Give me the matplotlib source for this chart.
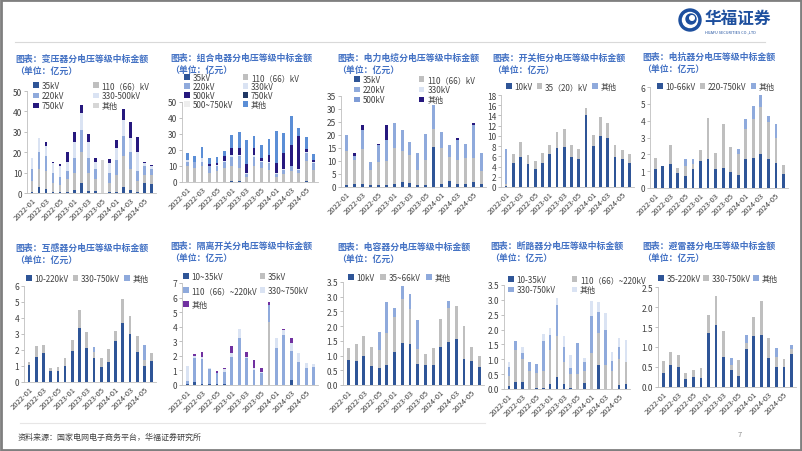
import matplotlib
matplotlib.use('Agg')
import matplotlib.pyplot as plt
from matplotlib.patches import Rectangle, Circle

plt.rcParams['font.family'] = ['Noto Sans CJK SC', 'DejaVu Sans']

# ---------------- data ----------------
months = ['2022-01', '2022-02', '2022-03', '2022-04', '2022-05', '2022-06',
          '2023-01', '2023-02', '2023-03', '2023-04', '2023-05', '2023-06',
          '2024-01', '2024-02', '2024-03', '2024-04', '2024-05', '2024-06']
tick_labels = ['2022-01', '2022-03', '2022-05', '2023-01', '2023-03', '2023-05',
               '2024-01', '2024-03', '2024-05']

# 变压器
tr_35 = [0.5, 3, 2, 0.5, 0.5, 0.5, 1.5, 5, 1, 1, 0, 0.5, 0.5, 3, 1.5, 0.5, 5, 4.5]
tr_110 = [5.5, 9, 9, 4.5, 3.5, 6.5, 8.5, 15, 9, 6, 0, 4.5, 8.5, 15, 10.5, 5.5, 4, 4.5]
tr_220 = [6, 8, 7, 5, 4, 4, 7, 11, 7, 5, 0, 5, 7, 10, 8, 5, 4, 3]
tr_330 = [5, 7, 5, 4.5, 5, 4, 8, 8, 8, 3, 0, 4.5, 6, 8, 7, 9, 1.5, 1]
tr_750 = [0, 0, 2, 0.5, 1, 5, 5, 4, 4, 2, 0, 2, 4, 5, 8, 7.5, 0.5, 0.5]
tr_other = [0, 0, 0, 0, 0, 0, 0, 0, 0, 0, 16, 0, 0, 0, 0, 0, 0, 0]

# 组合电器
gis_35 = [0.3, 0.2, 0.3, 0.2, 0.2, 0.3, 0.4, 0.5, 0.2, 0.3, 0.3, 0.3, 0.2, 0.3, 0.3, 0.2, 0.4, 0.3]
gis_110 = [9.5, 8.5, 9.5, 5.5, 6.5, 8.5, 9.5, 8.5, 2.8, 9.5, 8.5, 7.5, 2.8, 4.5, 6.5, 5.5, 12.5, 7.5]
gis_220 = [3, 3.5, 3, 4, 3.5, 4, 6, 7, 2, 6, 4, 4, 2, 3, 3, 2, 5, 4]
gis_330 = [1, 0.5, 2, 0.5, 0.5, 0.5, 1, 1, 0.5, 1, 0.5, 0.5, 0.5, 0.5, 0.5, 0.5, 1, 0.5]
gis_500 = [0, 0, 0, 1.3, 1.3, 2.7, 4.6, 4.5, 5.5, 4.2, 1.7, 4.7, 6.5, 9.7, 12.7, 20.8, 2, 1.7]
gis_750 = [0, 0, 0, 0, 0, 0, 0, 0, 0, 0, 0, 0, 0, 0, 0, 0, 0, 0]
gis_500_750 = [0, 0, 0, 0, 0, 0, 0, 0, 0, 0, 0, 0, 0, 0, 0, 0, 0, 0]
gis_other = [4.2, 3.8, 7.2, 3.5, 3.5, 3.5, 8, 10, 15.5, 8, 8, 10, 20, 12.5, 18.5, 4.5, 7, 3.5]

# 电力电缆
cb_35 = [0.8, 1.0, 1.2, 0.8, 0.8, 0.8, 1.2, 2.0, 1.5, 0.8, 0.8, 15.5, 1.0, 2.3, 1.3, 1.0, 1.8, 1.0]
cb_110 = [13.2, 9.5, 13.3, 5.7, 8.7, 9.2, 13.8, 12, 11, 5.7, 9.7, 7, 14, 9.2, 9.2, 10, 9.2, 5]
cb_220 = [6, 1.5, 7.5, 3, 6.8, 8, 9.5, 8, 5, 6.5, 10, 9, 6, 4.5, 7.5, 5.5, 13, 7]
cb_330 = [0, 0, 0, 0, 0, 0, 0, 0, 0, 0, 0, 0, 0, 0, 0, 0, 0, 0]
cb_500 = [0, 0, 0, 0, 0, 0, 0, 0, 0, 0, 0, 0, 0, 0, 0, 0, 0, 0]
cb_other = [0, 1.0, 1.7, 0, 0.4, 6, 0, 0, 0, 0, 0, 0, 0, 0, 0.7, 0, 0.7, 0]

# 开关柜
sw_10 = [0.2, 4.6, 5.9, 4.5, 3.5, 4.6, 6.5, 7.6, 7.9, 5.9, 5.5, 14.1, 8.0, 9.9, 9.6, 5.9, 5.5, 4.6]
sw_35 = [0.3, 1.9, 2.9, 1.7, 1.5, 2.1, 1.8, 3.2, 3.4, 2.4, 1.9, 1.4, 2.1, 3.7, 3.0, 2.3, 1.7, 1.8]
sw_other = [7.0, 0, 0, 0, 0, 0, 0, 0, 0, 0, 0, 0, 0, 0, 0, 0, 0, 0]

# 电抗器
re_10 = [1.1, 1.3, 1.4, 0.9, 0.7, 1.1, 1.6, 1.75, 1.15, 1.2, 0.95, 0.75, 1.75, 1.8, 2.0, 1.75, 1.5, 0.85]
re_220 = [0.7, 0, 1.15, 0.3, 0.6, 0.3, 0.65, 2.4, 0.9, 2.6, 1.5, 1.25, 1.75, 2.3, 2.8, 2.15, 1.5, 0.5]
re_other = [0, 0, 0, 0, 0.4, 0.35, 0, 0, 0, 0, 0, 0.3, 0.6, 0.8, 0.7, 0.4, 0.8, 0]

# 互感器
ct_10 = [1.05, 1.55, 1.8, 0.7, 0.7, 1.0, 1.95, 3.4, 2.15, 1.5, 0.95, 1.25, 2.55, 3.7, 3.0, 1.9, 1.0, 1.3]
ct_330 = [0.2, 0.7, 0.5, 0.2, 0.25, 0.5, 0.65, 1.1, 0.95, 0.4, 0.55, 0.8, 0.65, 1.5, 1.15, 1.0, 0.4, 0.5]
ct_other = [0, 0, 0, 0, 0, 0, 0, 0, 0, 0.3, 0, 0, 0, 0, 0, 0, 0.9, 0]

# 隔离开关
ds_10 = [0.1, 0.2, 0.1, 0.1, 0.05, 0.05, 0, 0, 0, 0, 0, 0, 0, 0, 0.35, 0, 0, 0]
ds_35 = [0, 0, 0, 0, 0, 0, 0, 0, 0, 0, 0, 4.3, 0, 0, 0, 0, 0, 0]
ds_110 = [0.2, 1.65, 1.7, 1.0, 0.75, 0.85, 1.9, 3.25, 1.85, 1.05, 0.8, 1.2, 2.55, 3.45, 1.95, 1.6, 1.2, 1.25]
ds_330 = [1.0, 0.15, 0.15, 0.1, 0.05, 0.2, 0.3, 0.6, 0.05, 0.15, 0.1, 0, 0.7, 0.3, 0.6, 0.6, 0.3, 0.2]
ds_other = [0, 0.1, 0.3, 0, 0.1, 0.1, 0.5, 0, 0.35, 0.5, 0.25, 0.2, 0, 0.1, 0.3, 0, 0, 0]

# 电容器
cap_10 = [0.85, 0.82, 1.0, 0.65, 0.58, 0.68, 1.12, 1.43, 1.38, 0.72, 0.68, 0.67, 1.3, 1.45, 1.55, 0.88, 0.82, 0.6]
cap_35 = [0.4, 0.56, 0.65, 0.63, 0.62, 1.1, 1.2, 1.5, 1.2, 0.5, 0.37, 0.6, 0.93, 1.15, 1.13, 1.12, 0.46, 0.37]
cap_other = [0, 0, 0, 0, 0.6, 1.04, 0.28, 0.42, 0.52, 0.98, 0, 0, 0, 0.25, 0, 0, 0, 0]

# 断路器
cbk_10 = [0.1, 0.25, 0.25, 0, 0.05, 0.03, 0.18, 0.42, 0.17, 0.05, 0, 0.2, 0, 0.8, 0, 0, 0.15, 0.18]
cbk_110 = [0.35, 1.05, 0.75, 0.6, 0.5, 0.57, 1.12, 1.38, 0.73, 0.45, 0.5, 0.4, 1.2, 1.1, 0.8, 0.6, 0.85, 0.72]
cbk_330 = [0.3, 0.3, 0.2, 0.3, 0.3, 1.0, 0.52, 1.02, 0.5, 0.2, 1.05, 0.3, 1.25, 0.7, 1.2, 0.35, 0.4, 0]
cbk_other = [0.15, 0, 0.2, 0, 0, 0.25, 0.23, 0.23, 0.4, 0.45, 0, 0.15, 0.5, 0.32, 0.55, 0.3, 0.32, 0.75]

# 避雷器
ar_35 = [0.36, 0.54, 0.5, 0.19, 0.24, 0.22, 1.36, 1.54, 0.76, 0.42, 0.28, 0.96, 1.28, 1.3, 0.73, 0.49, 0.49, 0.83]
ar_330 = [0.3, 0.33, 0.29, 0.17, 0.19, 0.26, 0.44, 0.73, 0.63, 0.13, 0.39, 0.14, 0.47, 0.86, 0.5, 0.26, 0.22, 0.12]
ar_other = [0, 0, 0, 0, 0, 0, 0, 0, 0, 0.17, 0, 0.2, 0, 0, 0, 0.23, 0, 0.09]

# ---------------- style ----------------
C_DARK = '#2F5597'
C_GRAY = '#BFBFBF'
C_LBLUE = '#8FAADC'
C_VLIGHT = '#DAE3F3'
C_INDIGO = '#26187E'
C_PURPLE = '#7030A0'
C_MBLUE = '#5B8ED6'
C_PALE = '#EEEEEE'
C_LGRAY = '#D6D6D6'
C_NAVY = '#203864'
TITLE_C = '#4472C4'
TXT_C = '#404040'

W, H = 802, 452
fig = plt.figure(figsize=(W / 100, H / 100), dpi=100)

# background overlay
bg = fig.add_axes([0, 0, 1, 1], zorder=-1)
bg.set_xlim(0, W)
bg.set_ylim(H, 0)
bg.axis('off')


def fx(x):
    return x / W


def fy(y):
    return 1 - y / H


def panel(box, ymax, ystep, series, order, ncol, leg_xy, colsp, labsp,
          title_xy, title, fmt='{:.0f}', xmin=-0.7):
    x0, x1, ytop, ybot = box
    ax = fig.add_axes([fx(x0), fy(ybot), (x1 - x0) / W, (ybot - ytop) / H])
    xs = list(range(len(months)))
    bottom = [0.0] * len(months)
    conts = []
    for label, vals, color in series:
        c = ax.bar(xs, vals, width=0.38, bottom=bottom, color=color,
                   label=label, linewidth=0)
        conts.append(c)
        bottom = [b + v for b, v in zip(bottom, vals)]
    ax.set_xlim(xmin, len(months) - 0.4)
    ax.set_ylim(0, ymax)
    n = int(round(ymax / ystep))
    yt = [i * ystep for i in range(n + 1)]
    ax.set_yticks(yt)
    ax.set_yticklabels([fmt.format(v) for v in yt])
    ax.set_xticks(list(range(0, len(months), 2)))
    ax.set_xticklabels(tick_labels, rotation=45, ha='right',
                       rotation_mode='anchor')
    ax.tick_params(axis='y', labelsize=6, colors=TXT_C, length=2,
                   width=0.5, pad=1.5, color='#A6A6A6')
    ax.tick_params(axis='x', labelsize=5.5, colors=TXT_C, length=0, pad=2)
    for s in ('top', 'right'):
        ax.spines[s].set_visible(False)
    for s in ('left', 'bottom'):
        ax.spines[s].set_color('#BFBFBF')
        ax.spines[s].set_linewidth(0.6)
    ax.patch.set_alpha(0)
    handles = [conts[i] for i in order]
    labels = [series[i][0] for i in order]
    ax.legend(handles, labels, loc='upper left',
              bbox_to_anchor=(fx(leg_xy[0]), fy(leg_xy[1])),
              bbox_transform=fig.transFigure, ncol=ncol, frameon=False,
              fontsize=5.8, handlelength=0.7, handleheight=0.7,
              handletextpad=0.35, columnspacing=colsp, labelspacing=labsp,
              borderpad=0, borderaxespad=0, labelcolor=TXT_C)
    fig.text(fx(title_xy[0]), fy(title_xy[1]), '图表：' + title,
             color=TITLE_C, fontsize=6.4, fontweight='bold', va='center',
             ha='left')
    fig.text(fx(title_xy[0]), fy(title_xy[1] + 12), '（单位：亿元）',
             color=TITLE_C, fontsize=6.4, fontweight='bold', va='center',
             ha='left')
    return ax


# 1 变压器
panel((27, 156, 92, 194), 50, 10,
      [('35kV', tr_35, C_DARK), ('110（66）kV', tr_110, C_GRAY),
       ('220kV', tr_220, C_LBLUE), ('330-500kV', tr_330, C_VLIGHT),
       ('750kV', tr_750, C_INDIGO), ('其他', tr_other, C_LGRAY)],
      [0, 2, 4, 1, 3, 5], 2, (33, 82), 3.6, 0.15,
      (15, 59), '变压器分电压等级中标金额')

# 2 组合电器
panel((182, 318, 103, 183), 50, 10,
      [('35kV', gis_35, C_DARK), ('110（66）kV', gis_110, C_GRAY),
       ('220kV', gis_220, C_LBLUE), ('330kV', gis_330, C_VLIGHT),
       ('500kV', gis_500, C_INDIGO), ('750kV', gis_750, C_NAVY),
       ('500~750kV', gis_500_750, C_PALE), ('其他', gis_other, C_MBLUE)],
      [0, 2, 4, 6, 1, 3, 5, 7], 2, (184, 74), 1.2, 0.0,
      (170, 58), '组合电器分电压等级中标金额')

# 3 电力电缆
panel((341, 486, 97, 188), 35, 5,
      [('35kV', cb_35, C_DARK), ('110（66）kV', cb_110, C_GRAY),
       ('220kV', cb_220, C_LBLUE), ('330kV', cb_330, C_VLIGHT),
       ('500kV', cb_500, '#7F9CD6'), ('其他', cb_other, C_INDIGO)],
      [0, 2, 4, 1, 3, 5], 2, (354, 76), 4.2, 0.15,
      (337, 58), '电力电缆分电压等级中标金额')

# 4 开关柜
panel((501, 634, 96, 188), 18, 2,
      [('10kV', sw_10, C_DARK), ('35（20）kV', sw_35, C_GRAY),
       ('其他', sw_other, C_LBLUE)],
      [0, 1, 2], 3, (506, 83), 0.5, 0.2,
      (492, 58), '开关柜分电压等级中标金额')

# 5 电抗器
panel((650, 788, 88, 189), 6, 1,
      [('10-66kV', re_10, C_DARK), ('220-750kV', re_220, C_GRAY),
       ('其他', re_other, C_LBLUE)],
      [0, 1, 2], 3, (657, 83), 0.5, 0.2,
      (642, 57), '电抗器分电压等级中标金额')

# 6 互感器
panel((24, 156, 287, 383), 6, 1,
      [('10-220kV', ct_10, C_DARK), ('330-750kV', ct_330, C_GRAY),
       ('其他', ct_other, C_LBLUE)],
      [0, 1, 2], 3, (26, 275), 0.5, 0.2,
      (15, 248), '互感器分电压等级中标金额')

# 7 隔离开关
panel((182, 318, 284, 386), 7, 1,
      [('10~35kV', ds_10, C_DARK), ('35kV', ds_35, C_GRAY),
       ('110（66）~220kV', ds_110, C_LBLUE), ('330~750kV', ds_330, C_VLIGHT),
       ('其他', ds_other, C_PURPLE)],
      [0, 2, 4, 1, 3], 2, (183, 273), 0.3, 0.6,
      (170, 246), '隔离开关分电压等级中标金额')

# 8 电容器
panel((343, 484, 283, 386), 3.5, 0.5,
      [('10kV', cap_10, C_DARK), ('35~66kV', cap_35, C_GRAY),
       ('其他', cap_other, C_LBLUE)],
      [0, 1, 2], 3, (348, 274), 0.7, 0.2,
      (337, 247), '电容器分电压等级中标金额', fmt='{:.1f}')

# 9 断路器
panel((504, 630, 286, 390), 3.5, 0.5,
      [('10-35kV', cbk_10, C_DARK), ('110（66）~220kV', cbk_110, C_GRAY),
       ('330-750kV', cbk_330, C_LBLUE), ('其他', cbk_other, C_VLIGHT)],
      [0, 2, 1, 3], 2, (508, 276), 2.0, 0.15,
      (490, 246), '断路器分电压等级中标金额', fmt='{:.1f}')

# 10 避雷器
panel((658, 796, 288, 388), 2.5, 0.5,
      [('35-220kV', ar_35, C_DARK), ('330-750kV', ar_330, C_GRAY),
       ('其他', ar_other, C_LBLUE)],
      [0, 1, 2], 3, (658, 275), 0.3, 0.2,
      (642, 246), '避雷器分电压等级中标金额', fmt='{:.1f}')

# ---------------- header / footer ----------------
bg.add_patch(Rectangle((1, 1), W - 2, H - 2, fill=False, edgecolor='#7F7F7F',
                       linewidth=2))
bg.plot([15, 765], [43, 43], color='#D9D9D9', linewidth=0.8)
bg.plot([20, 485], [424, 424], color='#E7E6E6', linewidth=0.8)

LOGO_C = '#1D4F9E'
bg.add_patch(Circle((690, 21), 11, color=LOGO_C))
bg.add_patch(Circle((690, 21), 7.5, color='white'))
bg.add_patch(Circle((691, 20), 5, color=LOGO_C))
bg.add_patch(Circle((692, 19), 2.3, color='white'))
bg.text(705, 19, '华福证券', color=LOGO_C, fontsize=12, fontweight='bold',
        va='center', ha='left')
bg.text(705, 32, 'HUAFU SECURITIES CO.,LTD', color=LOGO_C, fontsize=2.8,
        va='center', ha='left')

bg.text(18, 437, '资料来源：国家电网电子商务平台，华福证券研究所', color=TXT_C,
        fontsize=5.8, va='center', ha='left')
bg.text(738, 435, '7', color='#8C8C8C', fontsize=5.5, va='center', ha='left')

fig.savefig('out.png', dpi=100)
